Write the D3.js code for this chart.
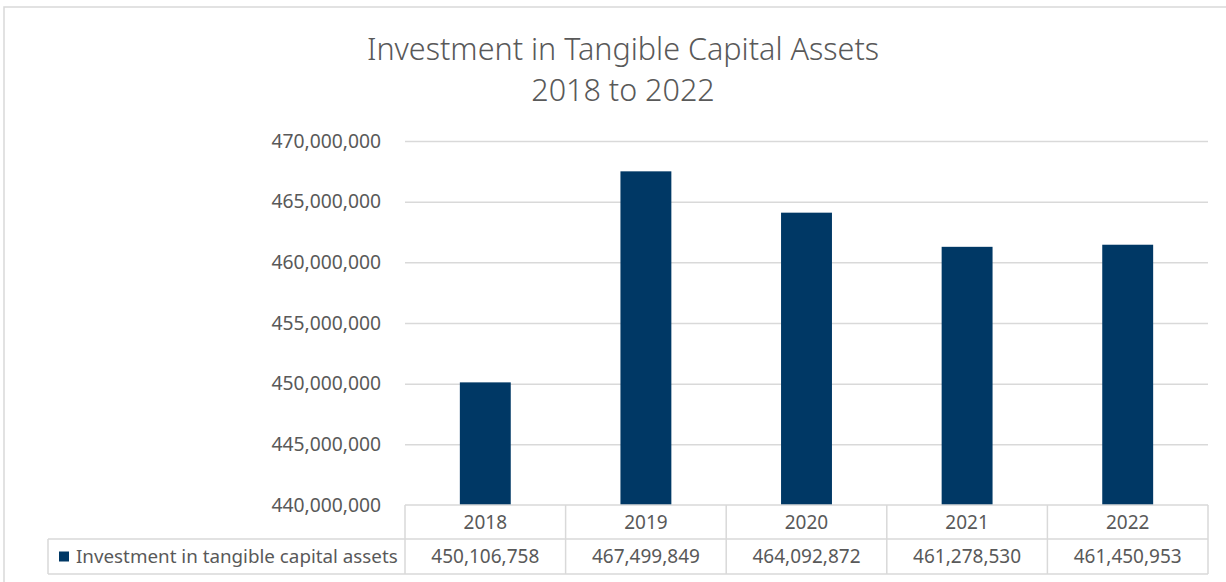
<!DOCTYPE html>
<html><head><meta charset="utf-8">
<script src="https://cdn.jsdelivr.net/npm/d3@7"></script>
<style>body{margin:0;background:#fff}svg{display:block}text{font-family:"Noto Sans",sans-serif;fill:#595959}</style>
</head><body><svg id="c" width="1226" height="582"></svg>
<script>
const categories = ["2018","2019","2020","2021","2022"];
const values = [450106758, 467499849, 464092872, 461278530, 461450953];
const seriesName = "Investment in tangible capital assets";
const yTicks = [440000000,445000000,450000000,455000000,460000000,465000000,470000000];
const titleLines = ["Investment in Tangible Capital Assets","2018 to 2022"];

const svg = d3.select("#c");
const m={left:405,right:1208,top:141,bottom:505};
const rowMid=539, tableBottom=574, legendLeft=48;
const gridColor="#d9d9d9";

// outer chart border
svg.append("rect").attr("x",4).attr("y",7).attr("width",1240).attr("height",600)
  .attr("fill","none").attr("stroke",gridColor).attr("stroke-width",1.5);

// title
svg.append("g").selectAll("text").data(titleLines).join("text")
  .attr("x",623).attr("y",(d,i)=>60+i*41).attr("text-anchor","middle")
  .style("font-size","30.5px").style("font-weight",300).text(d=>d);

const x=d3.scaleBand().domain(categories).range([m.left,m.right]).paddingInner(0).paddingOuter(0);
const y=d3.scaleLinear().domain([440000000,470000000]).range([m.bottom,m.top]);
const fmt=d3.format(",");

// gridlines
const yAxis=d3.axisLeft(y).tickValues(yTicks).tickSize(-(m.right-m.left)).tickFormat(fmt).tickPadding(24);
const ga=svg.append("g").attr("transform",`translate(${m.left},0)`).call(yAxis);
ga.select(".domain").remove();
ga.selectAll(".tick line").attr("stroke",gridColor).attr("stroke-width",1.5);
ga.selectAll(".tick text").style("font-size","19.3px").attr("fill","#595959").attr("dy","0.32em");
ga.selectAll(".tick").filter(d=>d===440000000).select("line").remove();

// bars
const bw=x.bandwidth()*0.317;
svg.append("g").selectAll("rect").data(values).join("rect")
  .attr("x",(d,i)=>x(categories[i])+x.bandwidth()/2-bw/2)
  .attr("width",bw)
  .attr("y",d=>y(d)).attr("height",d=>y(440000000)-y(d))
  .attr("fill","#003865");

// data table
const t=svg.append("g").attr("fill","none").attr("stroke",gridColor).attr("stroke-width",1.5);
t.append("line").attr("x1",m.left).attr("x2",m.right).attr("y1",m.bottom).attr("y2",m.bottom);
t.append("line").attr("x1",legendLeft).attr("x2",m.right).attr("y1",rowMid).attr("y2",rowMid);
t.append("line").attr("x1",legendLeft).attr("x2",m.right).attr("y1",tableBottom).attr("y2",tableBottom);
t.append("line").attr("x1",legendLeft).attr("x2",legendLeft).attr("y1",rowMid).attr("y2",tableBottom);
const bounds=categories.map(c=>x(c)).concat([m.right]);
t.selectAll(".v").data(bounds).join("line").attr("x1",d=>d).attr("x2",d=>d).attr("y1",m.bottom).attr("y2",tableBottom);

svg.append("g").selectAll("text").data(categories).join("text")
  .attr("x",d=>x(d)+x.bandwidth()/2).attr("y",(m.bottom+rowMid)/2).attr("dy","0.35em")
  .attr("text-anchor","middle").style("font-size","19px").text(d=>d);
svg.append("g").selectAll("text").data(values).join("text")
  .attr("x",(d,i)=>x(categories[i])+x.bandwidth()/2).attr("y",(rowMid+tableBottom)/2).attr("dy","0.35em")
  .attr("text-anchor","middle").style("font-size","19px").text(d=>fmt(d));

// legend key
svg.append("rect").attr("x",59).attr("y",(rowMid+tableBottom)/2-5).attr("width",10).attr("height",10).attr("fill","#003865");
svg.append("text").attr("x",76).attr("y",(rowMid+tableBottom)/2).attr("dy","0.35em")
  .style("font-size","18.8px").text(seriesName);
</script></body></html>
